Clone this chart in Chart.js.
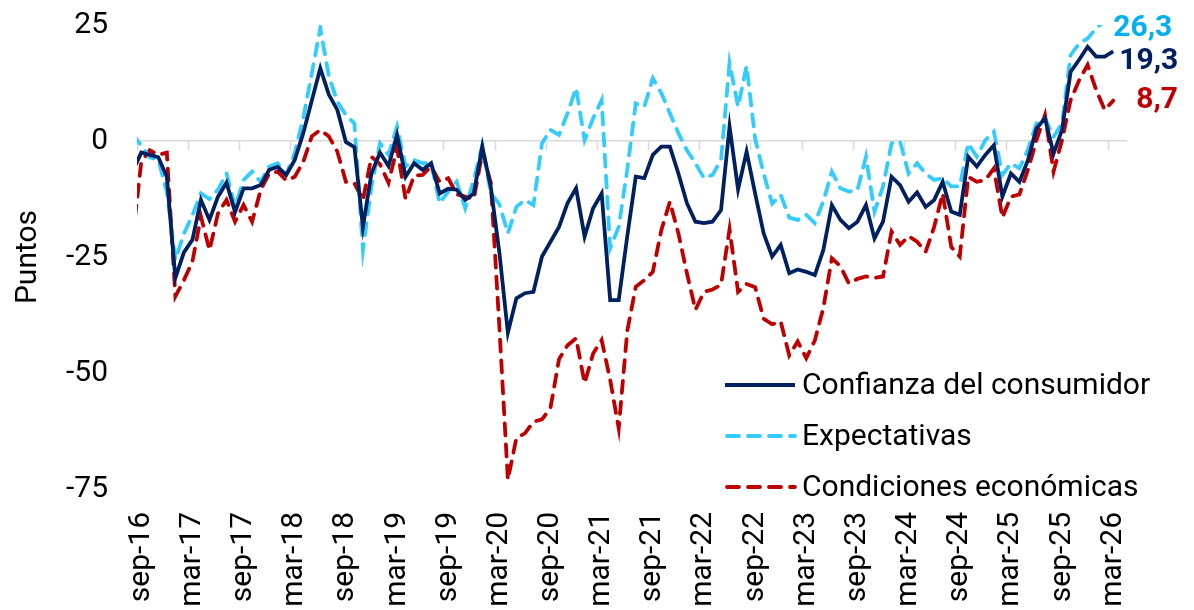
<!DOCTYPE html>
<html>
<head>
<meta charset="utf-8">
<script src="https://cdn.jsdelivr.net/npm/chart.js@4"></script>
<style>
  html, body { margin: 0; padding: 0; background: #fff; }
  canvas { display: block; }
</style>
</head>
<body>
<canvas id="chart" width="1194" height="610"></canvas>
<script>
const monthNames = ['ene', 'feb', 'mar', 'abr', 'may', 'jun', 'jul', 'ago', 'sep', 'oct', 'nov', 'dic'];

// monthly categories ago-16 .. abr-26; the axis starts at sep-16 and abr-26 is only axis room
const categories = [];
let year = 2016, month = 7;
while (categories.length < 117) {
    categories.push(monthNames[month] + '-' + String(year).slice(2));
    month++;
    if (month === 12) { month = 0; year++; }
}

const tickLabels = ['sep-16', 'mar-17', 'sep-17', 'mar-18', 'sep-18', 'mar-19', 'sep-19', 'mar-20', 'sep-20', 'mar-21',
    'sep-21', 'mar-22', 'sep-22', 'mar-23', 'sep-23', 'mar-24', 'sep-24', 'mar-25', 'sep-25', 'mar-26'];

const confianza = [
    -6.5,
    -2.5, -3, -3.5, -7.7, -29.5, -24, -21.3, -12.7, -17, -12,
    -9, -15.3, -10.2, -10.2, -9.5, -6.2, -5.6, -7.3, -4.1, 1.7,
    8.7, 15.7, 10, 6.7, -0.2, -1.3, -18.5, -7, -2.5, -5.4,
    1.3, -7.7, -4.8, -6.2, -4.8, -11.3, -10.3, -10.5, -12.7, -11.3,
    -1.2, -10, -24, -41.3, -33.9, -32.8, -32.5, -24.9, -21.7, -18.5,
    -13.4, -10.2, -20.6, -14.5, -11.3, -34.3, -34.3, -20.6, -7.7, -8,
    -3, -1.2, -1.2, -7, -13.4, -17.4, -17.7, -17.4, -14.9, 3.1,
    -10.4, -2.3, -11.3, -19.9, -24.9, -22.4, -28.5, -27.7, -28.2, -28.9,
    -23.5, -13.8, -17, -18.8, -17.4, -13.8, -21, -17.4, -7.7, -9.5,
    -13.1, -11.1, -14.2, -12.7, -8.8, -15.2, -15.9, -3.4, -5.5, -3,
    -0.9, -12, -7, -8.8, -4.1, 2.7, 4.9, -2.7, 2.4, 14.9,
    17.5, 20.3, 18.2, 18.2, 19.3
];

const expectativas = [
    1.5,
    -1, -3.5, -4, -11, -25.6, -20, -16, -11.3, -12.5, -10.5,
    -7, -14.2, -8.4, -6.6, -8.8, -5.5, -4.8, -7.3, -2.6, 4.9,
    14.6, 24.3, 14, 8.5, 5.6, 3.8, -23.5, -9.8, -0.5, -3,
    3.1, -5.5, -4.1, -4.8, -4.8, -13.4, -10.9, -8.8, -14.5, -8.4,
    -0.9, -11.3, -13.6, -19.9, -14.2, -12.7, -13.8, -0.5, 2.4, 1.3,
    6, 11.4, 0.2, 4.9, 8.8, -23.1, -18.5, -6.2, 8.1, 7.4,
    13.5, 10.3, 6, 1.7, -2, -4.8, -8, -7.3, -4.1, 16.8,
    7.4, 16.2, 0.5, -7, -13.5, -11.6, -16.5, -17, -15.9, -17.7,
    -13, -6.6, -10.2, -10.9, -10.6, -3.4, -15.2, -9.8, -0.5, -0.1,
    -7, -4.8, -7, -8.4, -8, -9.8, -9.8, -0.5, -3.4, 0.2,
    2, -7.3, -4.8, -5.9, -1.9, 3.8, 4.9, 0.9, 3.8, 18.5,
    21, 22.1, 24.3, 25.8, 26.3
];

const condiciones = [
    -21,
    -4.5, -2, -3, -2.5, -33.5, -30, -26, -16.3, -23.5, -15.6,
    -12.7, -17.4, -13.8, -17.4, -10.6, -7, -6.6, -8.5, -7.7, -4.5,
    1, 2.4, 1, -2.3, -8.8, -9.1, -12.7, -3.4, -5, -9,
    -1.5, -12.5, -7.5, -7.3, -5.5, -8.8, -8, -11.5, -12, -12.5,
    -2.5, -9, -40, -73, -64, -63, -60.5, -60, -57.5, -47,
    -44, -42.5, -52.2, -45.8, -42.9, -51.5, -61.9, -41, -31.4, -30,
    -28.2, -19.2, -13.1, -19.9, -28.5, -36.4, -32.5, -32, -31, -19,
    -32.5, -30.8, -31.5, -38.3, -39.5, -38.9, -46.2, -43.2, -46.8, -43,
    -36, -25.3, -27, -30.7, -29.7, -29.2, -29.5, -29.2, -19.5, -22.4,
    -20.5, -21.7, -23.9, -18.5, -11.3, -22.8, -24.9, -7.7, -8.8, -8.4,
    -5.9, -16.5, -12, -11.5, -6.2, 0.2, 5.6, -6.6, 0.2, 8.8,
    13.1, 16.4, 11, 6.7, 8.7
];

const labelColors = ['#002060', '#00B0F0', '#C00000'];
const FONT = 'Roboto';

// legend drawn inside the plot area, lower right
const insideLegend = {
    id: 'insideLegend',
    afterDraw(chart) {
        const ctx = chart.ctx;
        chart.data.datasets.forEach((ds, i) => {
            const y = 385 + i * 51;
            ctx.save();
            ctx.strokeStyle = ds.borderColor;
            ctx.lineWidth = ds.borderWidth;
            ctx.lineCap = ds.borderDash ? 'round' : 'butt';
            ctx.setLineDash(ds.borderDash || []);
            ctx.beginPath();
            ctx.moveTo(ds.borderDash ? 727 : 725, y);
            ctx.lineTo(795, y);
            ctx.stroke();
            ctx.setLineDash([]);
            ctx.fillStyle = '#000';
            ctx.font = '30px ' + FONT;
            ctx.textBaseline = 'middle';
            ctx.textAlign = 'left';
            ctx.fillText(ds.label, 802, y + 1);
            ctx.restore();
        });
    }
};

// last value written next to the end of each line
const endLabels = {
    id: 'endLabels',
    afterDraw(chart) {
        const ctx = chart.ctx;
        const x = chart.scales.x, y = chart.scales.y;
        const shift = [[6, 10], [0, 10], [23, 0]];
        chart.data.datasets.forEach((ds, i) => {
            const last = ds.data.length - 1;
            const v = ds.data[last];
            ctx.save();
            ctx.fillStyle = labelColors[i];
            ctx.font = 'bold 30px ' + FONT;
            ctx.textBaseline = 'middle';
            ctx.textAlign = 'left';
            ctx.fillText(v.toFixed(1).replace('.', ','),
                x.getPixelForValue(last) + shift[i][0],
                y.getPixelForValue(v) + shift[i][1]);
            ctx.restore();
        });
    }
};

new Chart(document.getElementById('chart'), {
    type: 'line',
    data: {
        labels: categories,
        datasets: [{
            label: 'Confianza del consumidor',
            data: confianza,
            borderColor: '#002060',
            borderWidth: 3.8,
            xAxisID: 'x',
            clip: 0
        }, {
            label: 'Expectativas',
            data: expectativas,
            borderColor: '#33CCFF',
            borderWidth: 3.8,
            borderDash: [12, 9],
            borderCapStyle: 'round',
            xAxisID: 'x',
            clip: 0
        }, {
            label: 'Condiciones económicas',
            data: condiciones,
            borderColor: '#C00000',
            borderWidth: 3.8,
            borderDash: [12, 9],
            borderCapStyle: 'round',
            xAxisID: 'x',
            clip: 0
        }]
    },
    options: {
        responsive: false,
        animation: false,
        devicePixelRatio: 1,
        layout: { padding: { top: 25, right: 68, left: 0, bottom: 0 } },
        elements: { point: { radius: 0 }, line: { tension: 0 } },
        plugins: {
            legend: { display: false },
            tooltip: { enabled: false }
        },
        scales: {
            x: {
                type: 'category',
                position: 'bottom',
                min: 'sep-16',
                offset: true,
                grid: { display: false, drawTicks: false },
                border: { display: false },
                afterFit: (scale) => {
                    scale.height = 121;
                    scale.paddingLeft = 0;
                    scale.paddingRight = 0;
                },
                ticks: {
                    autoSkip: false,
                    minRotation: 90,
                    maxRotation: 90,
                    padding: 23,
                    color: '#000',
                    font: { family: FONT, size: 30 },
                    callback: function (value) {
                        const lab = this.getLabelForValue(value);
                        return tickLabels.includes(lab) ? lab : '';
                    }
                }
            },
            xz: {
                type: 'category',
                axis: 'x',
                position: { y: 0 },
                min: 'sep-16',
                offset: true,
                ticks: { display: false, autoSkip: false },
                border: { display: true, color: '#d9d9d9', width: 1.5 },
                grid: {
                    offset: true,
                    drawOnChartArea: false,
                    drawTicks: true,
                    tickLength: 9,
                    tickWidth: 1.5,
                    color: 'transparent',
                    tickColor: (c) => (c.index !== undefined && c.index % 6 === 0 && c.index < 115) ? '#d9d9d9' : 'transparent'
                }
            },
            y: {
                min: -75,
                max: 25,
                grid: { display: false, drawTicks: false },
                border: { display: false },
                afterFit: (scale) => {
                    scale.width = 137;
                    scale.paddingTop = 0;
                    scale.paddingBottom = 0;
                },
                ticks: {
                    stepSize: 25,
                    padding: 29,
                    color: '#000',
                    font: { family: FONT, size: 30 }
                },
                title: {
                    display: true,
                    text: 'Puntos',
                    color: '#000',
                    padding: { top: 10, bottom: 0 },
                    font: { family: FONT, size: 30 }
                }
            }
        }
    },
    plugins: [insideLegend, endLabels]
});
</script>
</body>
</html>
